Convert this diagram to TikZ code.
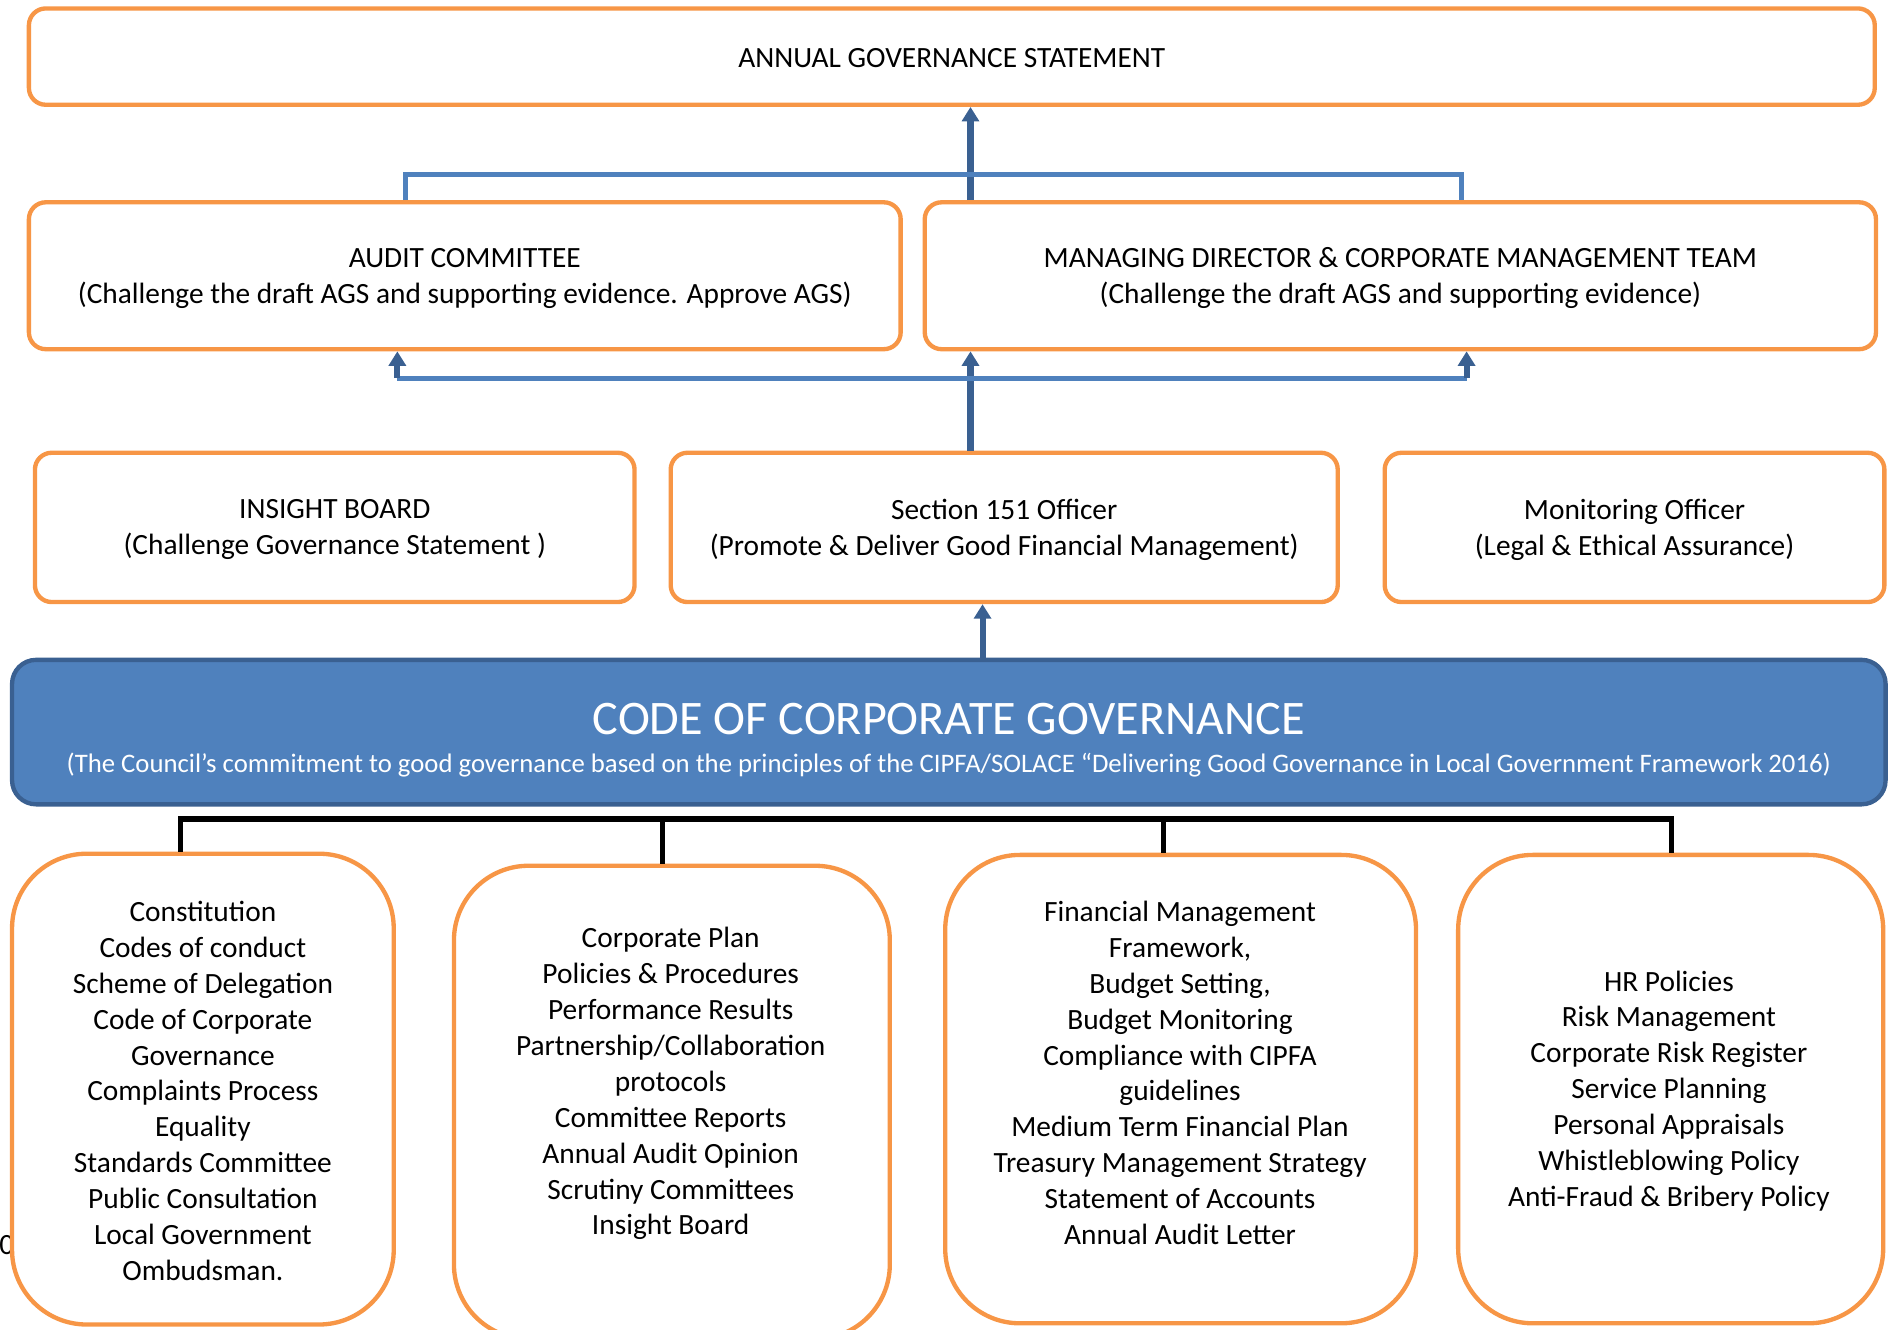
\documentclass[tikz,border=0pt]{standalone}
\usepackage{fontspec}
\setmainfont{Carlito}
\usetikzlibrary{arrows.meta}
\definecolor{orng}{HTML}{F79646}
\definecolor{lblue}{HTML}{4F81BD}
\definecolor{dblue}{HTML}{3A6091}
\begin{document}
\begin{tikzpicture}[x=1pt,y=-1pt,
  obox/.style={draw=orng,line width=3.6pt,fill=white,rounded corners=14pt,inner sep=0pt},
  bbox/.style={draw=orng,line width=3.6pt,fill=white,rounded corners=62pt,inner sep=0pt},
  txt/.style={font=\fontsize{24.4}{29.8}\selectfont,align=center,inner sep=0pt},
  darr/.style={draw=dblue,line width=5pt,-{Triangle[length=12pt,width=14pt]}},
  lline/.style={draw=lblue,line width=4pt},
  kline/.style={draw=black,line width=5pt},
  kdrop/.style={draw=black,line width=4pt}]
\useasboundingbox (0,0) rectangle (1568,1104);
% page number fragment at the left edge (drawn first, behind the box)
\node[txt,anchor=west] (pg) at (-13,1034) {10};
% top box
\node[obox,minimum width=1533pt,minimum height=80pt] (AGS) at (790.5,47) {};
\node[txt] (tAGS) at (790.5,48) {ANNUAL GOVERNANCE STATEMENT};
% second row
\node[obox,minimum width=724pt,minimum height=122pt] (AUD) at (386,229) {};
\node[txt] (tAUD) at (386,231) {AUDIT COMMITTEE\\(Challenge the draft AGS and supporting evidence. Approve AGS)};
\node[obox,minimum width=790pt,minimum height=122pt] (MD) at (1163,229) {};
\node[txt] (tMD) at (1163,231) {MANAGING DIRECTOR \& CORPORATE MANAGEMENT TEAM\\(Challenge the draft AGS and supporting evidence)};
% third row
\node[obox,minimum width=498pt,minimum height=124pt] (INS) at (278,438) {};
\node[txt] (tINS) at (278,440) {INSIGHT BOARD\\(Challenge Governance Statement )};
\node[obox,minimum width=554pt,minimum height=124pt] (S151) at (834,438) {};
\node[txt] (tS151) at (834,440) {Section 151 Officer\\(Promote \& Deliver Good Financial Management)};
\node[obox,minimum width=415pt,minimum height=124pt] (MON) at (1357.5,438) {};
\node[txt] (tMON) at (1357.5,440) {Monitoring Officer\\(Legal \& Ethical Assurance)};
% code box
\node[draw=dblue,line width=3.6pt,fill=lblue,rounded corners=20pt,minimum width=1556pt,minimum height=120pt,inner sep=0pt] (CODE) at (788,608) {};
\node[text=white,font=\fontsize{40}{44}\selectfont,inner sep=0pt] (tCODE) at (788,597) {CODE OF CORPORATE GOVERNANCE};
\node[text=white,font=\fontsize{22.2}{26}\selectfont,inner sep=0pt] (sCODE) at (788,635) {(The Council’s commitment to good governance based on the principles of the CIPFA/SOLACE “Delivering Good Governance in Local Government Framework 2016)};
% bottom boxes
\node[bbox,minimum width=317pt,minimum height=391pt] (B1) at (168.5,904.5) {};
\node[txt] (t1) at (168.5,906) {Constitution\\Codes of conduct\\Scheme of Delegation\\Code of Corporate\\Governance\\Complaints Process\\Equality\\Standards Committee\\Public Consultation\\Local Government\\Ombudsman.};
\node[bbox,minimum width=362pt,minimum height=393pt] (B2) at (558,915.5) {};
\node[txt] (t2) at (557,900) {Corporate Plan\\Policies \& Procedures\\Performance Results\\Partnership/Collaboration\\protocols\\Committee Reports\\Annual Audit Opinion\\Scrutiny Committees\\Insight Board};
\node[bbox,minimum width=391pt,minimum height=389pt] (B3) at (980.5,904.5) {};
\node[txt] (t3) at (980,891) {Financial Management\\Framework,\\Budget Setting,\\Budget Monitoring\\Compliance with CIPFA\\guidelines\\Medium Term Financial Plan\\Treasury Management Strategy\\Statement of Accounts\\Annual Audit Letter};
\node[bbox,minimum width=353pt,minimum height=389pt] (B4) at (1387.5,904.5) {};
\node[txt] (t4) at (1386,906) {HR Policies\\Risk Management\\Corporate Risk Register\\Service Planning\\Personal Appraisals\\Whistleblowing Policy\\Anti-Fraud \& Bribery Policy};
% coordinates for connectors
\coordinate (xa) at (806,0);
\coordinate (xc) at (816,0);
\coordinate (tl) at (337,145);
\coordinate (tr) at (1214,145);
\coordinate (bl) at (330,314);
\coordinate (br) at (1218,314);
\coordinate (k1) at (150,680);
\coordinate (k2) at (550,680);
\coordinate (k3) at (966,680);
\coordinate (k4) at (1388,680);
% blue connectors
\draw[darr] (xa |- MD.north) -- (xa |- AGS.south);
\draw[lline] (tl |- AUD.north) -- (tl) -- (tr) -- (tr |- MD.north);
\draw[darr] (xa |- S151.north) -- (xa |- MD.south);
\draw[lline] (bl) -- (br);
\draw[darr] (bl) -- (bl |- AUD.south);
\draw[darr] (br) -- (br |- MD.south);
\draw[darr] (xc |- CODE.north) -- (xc |- S151.south);
% black bracket
\draw[kdrop] (k1) -- (k1 |- B1.north);
\draw[kdrop] (k2) -- (k2 |- B2.north);
\draw[kdrop] (k3) -- (k3 |- B3.north);
\draw[kdrop] (k4) -- (k4 |- B4.north);
\draw[kline] ([xshift=-2pt]k1) -- ([xshift=2pt]k4);
\end{tikzpicture}
\end{document}
